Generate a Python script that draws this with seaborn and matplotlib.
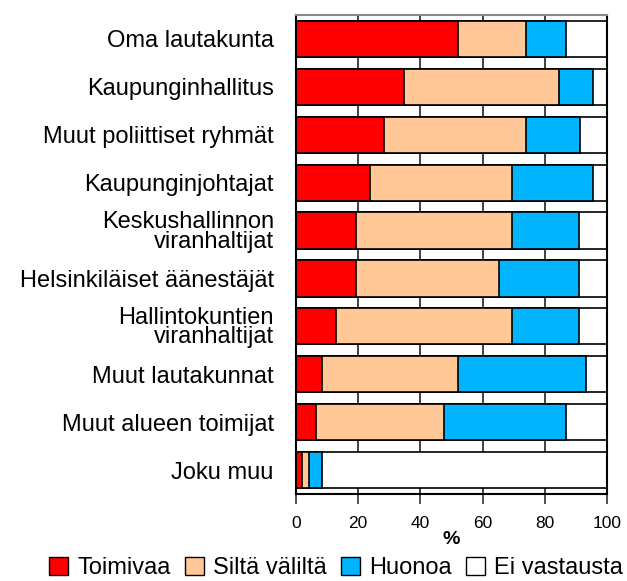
import numpy as np
import pandas as pd
import matplotlib
matplotlib.use("Agg")
import matplotlib.pyplot as plt
import seaborn as sns
from matplotlib.patches import Patch

# categories top to bottom
categories = [
    "Oma lautakunta",
    "Kaupunginhallitus",
    "Muut poliittiset ryhmät",
    "Kaupunginjohtajat",
    "Keskushallinnon\nviranhaltijat",
    "Helsinkiläiset äänestäjät",
    "Hallintokuntien\nviranhaltijat",
    "Muut lautakunnat",
    "Muut alueen toimijat",
    "Joku muu",
]

# percentages
toimivaa = [52.0, 34.7, 28.2, 23.7, 19.4, 19.4, 12.8, 8.5, 6.3, 2.0]
silta_valilta = [21.8, 50.0, 45.7, 45.7, 50.0, 45.8, 56.6, 43.6, 41.3, 2.2]
huonoa = [13.0, 10.8, 17.3, 26.1, 21.7, 25.9, 21.7, 41.2, 39.2, 4.3]
ei_vastausta = [13.2, 4.5, 8.8, 4.5, 8.9, 8.9, 8.9, 6.7, 13.2, 91.5]

series_names = ["Toimivaa", "Siltä väliltä", "Huonoa", "Ei vastausta"]
colors = ["#ff0000", "#ffc896", "#00b4ff", "#ffffff"]
xticks = [0, 20, 40, 60, 80, 100]

df = pd.DataFrame({
    "kategoria": categories,
    "Toimivaa": toimivaa,
    "Siltä väliltä": silta_valilta,
    "Huonoa": huonoa,
    "Ei vastausta": ei_vastausta,
})

sns.set_style("white")
plt.rcParams["font.family"] = ["Liberation Sans", "DejaVu Sans"]
plt.rcParams["text.color"] = "black"
plt.rcParams["xtick.color"] = "black"
plt.rcParams["ytick.color"] = "black"
plt.rcParams["axes.labelcolor"] = "black"

fig = plt.figure(figsize=(6.27, 5.81), dpi=100)
ax = fig.add_axes([0.4721, 0.1497, 0.4960, 0.8245])

# stacked bars: draw cumulative totals from the longest down to the shortest
cum = df[series_names].cumsum(axis=1)
for name, col in reversed(list(zip(series_names, colors))):
    sns.barplot(
        data=cum.assign(kategoria=df["kategoria"]),
        x=name, y="kategoria", orient="h",
        color=col, saturation=1, width=0.757,
        edgecolor="black", linewidth=1.2, ax=ax, zorder=2,
    )

ax.set_xlim(0, 100)
ax.set_ylim(9.5, -0.5)
ax.set_xticks(xticks)
# grid lines behind the bars, visible in the gaps
ax.vlines(xticks[1:-1], -0.5, 9.5, colors="#333333", linewidth=1.3, zorder=0.5)

for side in ["left", "right", "bottom"]:
    ax.spines[side].set_color("black")
    ax.spines[side].set_linewidth(1.5)
ax.spines["top"].set_color("#888888")
ax.spines["top"].set_linewidth(1.5)

ax.tick_params(axis="x", direction="out", length=7, width=1.2, pad=9,
               labelsize=12.5, bottom=True, color="#333333", labelcolor="black")
ax.tick_params(axis="y", length=0, pad=16, labelsize=17, labelcolor="black")
for lab in ax.get_yticklabels():
    lab.set_multialignment("right")
    lab.set_linespacing(0.85)

ax.set_ylabel("")
ax.set_xlabel("%", fontsize=14, fontweight="bold", labelpad=0, color="black")

handles = [Patch(facecolor=c, edgecolor="black", linewidth=1.0) for c in colors]
fig.legend(handles, series_names, loc="center", bbox_to_anchor=(0.536, 0.022),
           ncol=4, frameon=False, fontsize=17, handlelength=0.8,
           handleheight=0.78, handletextpad=0.4, columnspacing=0.6,
           borderaxespad=0, borderpad=0, labelcolor="black")

fig.savefig("out.png", dpi=100)
